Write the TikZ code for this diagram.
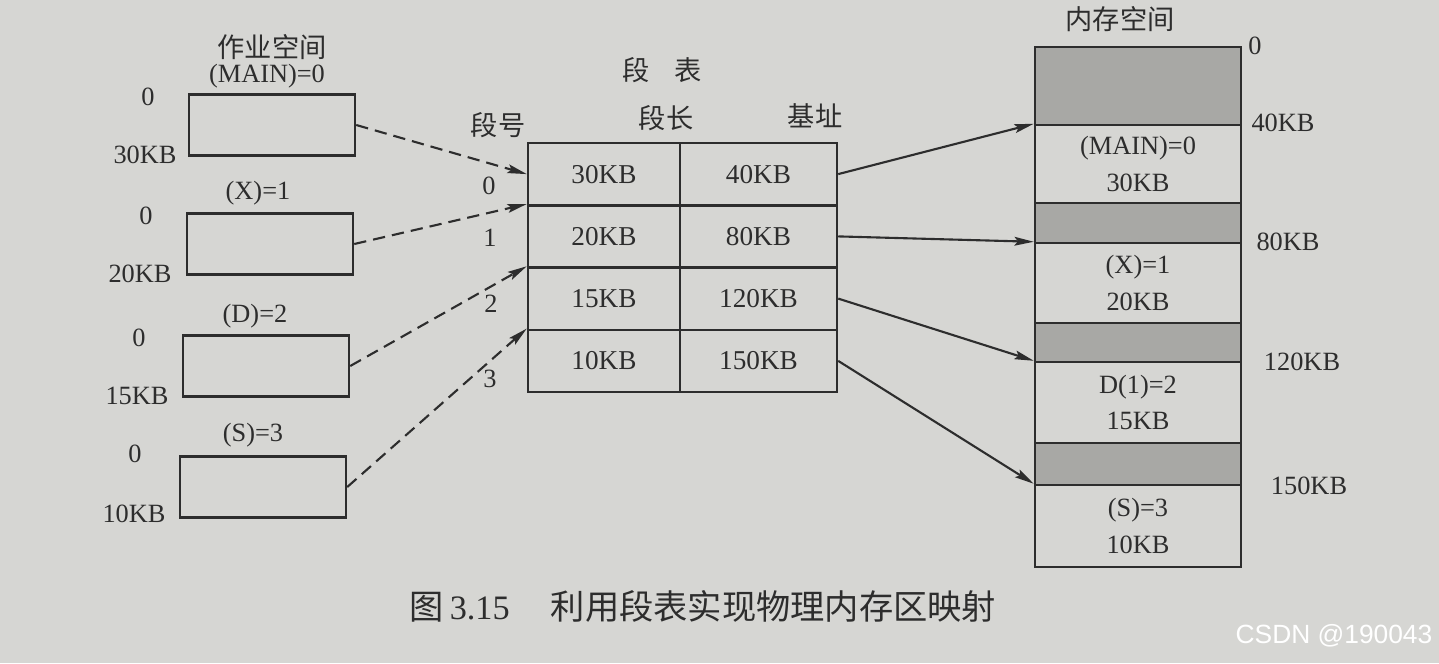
\documentclass[tikz,border=0pt]{standalone}
\usepackage{fontspec}
\setmainfont{Liberation Serif}
\newfontfamily\cjk{Noto Sans CJK SC}
\newfontfamily\wmfont{Liberation Sans}
\usetikzlibrary{arrows.meta}
\definecolor{bg}{RGB}{214,214,211}
\definecolor{shade}{RGB}{168,168,165}
\definecolor{ink}{RGB}{45,45,45}
\def\pxu{0.02cm}
\begin{document}
\begin{tikzpicture}[x=0.02cm,y=-0.02cm,
  every node/.style={text=ink, inner sep=0pt},
  lat/.style={font=\fontsize{15}{15}\selectfont},
  zh/.style={font=\cjk\fontsize{15.5}{16}\selectfont},
  jobbox/.style={draw=ink, line width=1.4pt, minimum width=166*\pxu, minimum height=61*\pxu},
  cellA/.style={draw=ink, line width=1.4pt, minimum width=152*\pxu, minimum height=62.25*\pxu, font=\fontsize{15.5}{15}\selectfont},
  cellB/.style={draw=ink, line width=1.4pt, minimum width=157*\pxu, minimum height=62.25*\pxu, font=\fontsize{15.5}{15}\selectfont},
  memseg/.style={draw=ink, line width=1.4pt, minimum width=206*\pxu, align=center, font=\fontsize{15}{21}\selectfont},
  freeseg/.style={memseg, fill=shade},
  dasharrow/.style={draw=ink, line width=1.2pt, dash pattern=on 7pt off 4pt, -{Stealth[length=11pt,width=5pt,inset=2pt]}},
  solidarrow/.style={draw=ink, line width=1.2pt, -{Stealth[length=11pt,width=5pt,inset=2pt]}}]

\path[fill=bg, use as bounding box] (0,0) rectangle (1439,663);

% job space
\node[zh] (jtitle) at (272,47) {作业空间};
\node[lat] (jn0) at (267,76) {(MAIN)=0};
\node[jobbox] (j0) at (272,125) {};
\node[lat] (js0) at (148,97) {0};
\node[lat] (je0) at (145,155) {30KB};

\node[lat] (jn1) at (258,193) {(X)=1};
\node[jobbox] (j1) at (270,244) {};
\node[lat] (js1) at (146,216) {0};
\node[lat] (je1) at (140,274) {20KB};

\node[lat] (jn2) at (255,316) {(D)=2};
\node[jobbox] (j2) at (266,366) {};
\node[lat] (js2) at (139,338) {0};
\node[lat] (je2) at (137,396) {15KB};

\node[lat] (jn3) at (253,435) {(S)=3};
\node[jobbox] (j3) at (263,487) {};
\node[lat] (js3) at (135,454) {0};
\node[lat] (je3) at (134,514) {10KB};

% segment table
\node[zh] (ttitle) at (662,70) {段\hspace{0.9em}表};
\node[zh] (hno) at (498,125) {段号};
\node[zh] (hlen) at (666,118) {段长};
\node[zh] (hbase) at (815,116) {基址};

\node[cellA] (t00) at (604,174.1) {30KB};
\node[cellB] (t01) at (758.5,174.1) {40KB};
\node[cellA] (t10) at (604,236.4) {20KB};
\node[cellB] (t11) at (758.5,236.4) {80KB};
\node[cellA] (t20) at (604,298.6) {15KB};
\node[cellB] (t21) at (758.5,298.6) {120KB};
\node[cellA] (t30) at (604,360.9) {10KB};
\node[cellB] (t31) at (758.5,360.9) {150KB};

\node[lat] (r0) at (489,186) {0};
\node[lat] (r1) at (490,238) {1};
\node[lat] (r2) at (491,304) {2};
\node[lat] (r3) at (490,379) {3};

% memory space
\node[zh] (mtitle) at (1120,19) {内存空间};
\node[freeseg, minimum height=78*\pxu] (m0) at (1138,86) {};
\node[memseg, minimum height=78*\pxu] (m1) at (1138,164) {(MAIN)=0\\30KB};
\node[freeseg, minimum height=40*\pxu] (m2) at (1138,223) {};
\node[memseg, minimum height=80*\pxu] (m3) at (1138,283) {(X)=1\\20KB};
\node[freeseg, minimum height=39*\pxu] (m4) at (1138,342.5) {};
\node[memseg, minimum height=81*\pxu] (m5) at (1138,402.5) {D(1)=2\\15KB};
\node[freeseg, minimum height=42*\pxu] (m6) at (1138,464) {};
\node[memseg, minimum height=82*\pxu] (m7) at (1138,526) {(S)=3\\10KB};

\node[lat] (a0) at (1255,46) {0};
\node[lat] (a1) at (1283,123) {40KB};
\node[lat] (a2) at (1288,242) {80KB};
\node[lat] (a3) at (1302,362) {120KB};
\node[lat] (a4) at (1309,486) {150KB};

% connectors
\draw[dasharrow] (j0.east) -- (t00.west);
\draw[dasharrow] (j1.east) -- (t10.north west);
\draw[dasharrow] (j2.east) -- (t20.north west);
\draw[dasharrow] (j3.east) -- (t30.north west);

\draw[solidarrow] (t01.east) -- (m1.north west);
\draw[solidarrow] (t11.east) -- (m3.north west);
\draw[solidarrow] (t21.east) -- (m5.north west);
\draw[solidarrow] (t31.east) -- (m7.north west);

% caption
\node[font=\fontsize{19.5}{20}\selectfont] (cap) at (703,606) {{\cjk 图}\,3.15\hspace{1.2em}{\cjk 利用段表实现物理内存区映射}};

% watermark
\node[font=\wmfont\fontsize{15}{15}\selectfont, text=white] (wm) at (1334,636) {CSDN @190043};
\end{tikzpicture}
\end{document}
